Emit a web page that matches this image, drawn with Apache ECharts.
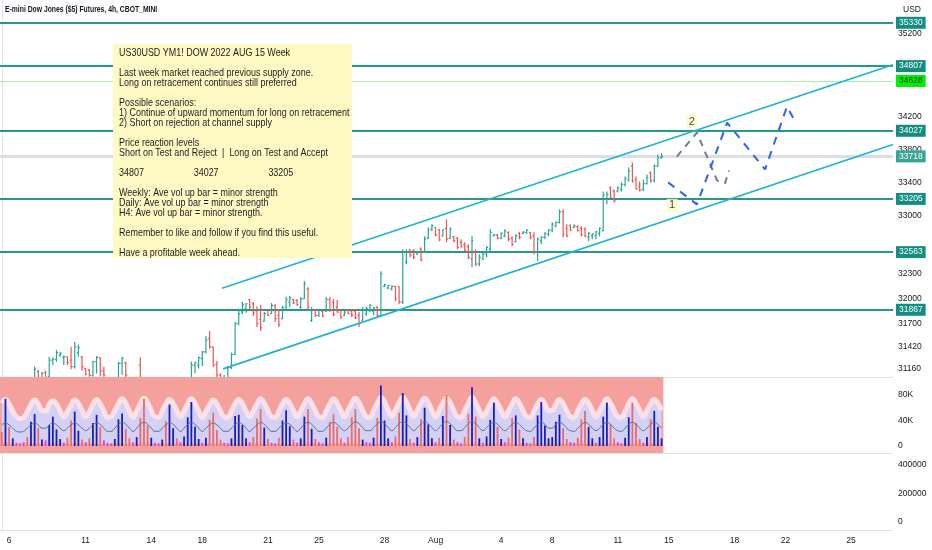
<!DOCTYPE html>
<html>
<head>
<meta charset="utf-8">
<script src="https://cdn.jsdelivr.net/npm/echarts@6/dist/echarts.min.js"></script>
<style>
  html, body { margin: 0; padding: 0; background: #fff; }
  #chart { width: 932px; height: 550px; }
</style>
</head>
<body>
<div id="chart"></div>
<script>
// YM1! 4h bars, open / close / low / high
const ohlc = [
  [30900,30870,30820,30950],[30870,30940,30800,30970],[30940,30900,30850,30990],[30900,30950,30860,31000],[30950,30890,30850,31010],
  [30890,30930,30840,30980],[30930,30960,30880,31020],[30960,30940,30890,31030],[30940,30990,30900,31040],[30990,31150,30970,31182],
  // 10
  [31120,31030,30990,31140],[31030,31100,31000,31118],[31110,31050,31020,31134],[31060,31260,31040,31298],[31260,31270,31200,31290],
  [31270,31350,31240,31383],[31320,31340,31300,31360],[31290,31300,31200,31315],[31300,31230,31200,31302],[31260,31180,31150,31422],
  // 20
  [31180,31420,31160,31478],[31350,31410,31300,31446],[31300,31180,31135,31310],[31160,31090,31075,31165],[31140,31075,31060,31150],
  [31075,31240,31060,31250],[31240,31290,31100,31310],[31290,31130,31065,31290],[31130,31080,31060,31180],[31050,30980,30920,31055],
  // 30
  [30980,30950,30880,31020],[30950,31040,30900,31050],[31040,31220,31020,31240],[31220,31280,31080,31300],[31230,31080,31040,31240],
  [31050,30980,30900,31055],[30980,30900,30850,31000],[30900,30960,30860,31010],[31200,30950,30900,31290],[30950,30880,30820,30990],
  // 40
  [30880,30840,30760,30920],[30840,30900,30800,30950],[30900,30860,30780,30940],[30860,30800,30720,30890],[30800,30850,30760,30900],
  [30850,30820,30770,30880],[30820,30880,30790,30930],[30880,30910,30840,30960],[30910,30870,30820,30950],[30870,30930,30840,30980],
  // 50
  [30930,30960,30880,31010],[30960,31000,30920,31040],[31000,31200,30980,31240],[31200,31230,31100,31240],[31200,31290,31160,31300],
  [31280,31360,31190,31370],[31360,31500,31340,31550],[31520,31420,31400,31610],[31420,31200,31180,31420],[31210,31080,31000,31250],
  // 60
  [31080,31020,30960,31100],[31020,31050,30990,31080],[31050,31170,31020,31190],[31170,31330,31150,31350],[31330,31700,31320,31720],
  [31700,31820,31680,31880],[31840,31930,31816,31960],[31880,31940,31830,31950],[31990,31900,31876,31996],[31940,31830,31792,31960],
  // 70
  [31850,31700,31660,31910],[31750,31650,31611,31924],[31730,31820,31725,31840],[31860,31800,31792,31876],[31820,31920,31816,31948],
  [31910,31760,31719,31936],[31800,31690,31659,31876],[31760,31890,31755,31912],[31900,31990,31876,32020],[31960,32010,31900,32032],
  // 80
  [31990,31950,31936,31996],[31980,31930,31912,31996],[31900,32000,31876,32020],[32000,32180,31996,32213],[32120,31900,31876,32140],
  [31740,31860,31719,31900],[31860,31800,31780,31876],[31800,31860,31780,31876],[31850,31790,31780,31852],[31850,31990,31840,32020],
  // 90
  [31990,31860,31840,32020],[31960,31810,31792,31996],[31900,31840,31830,31984],[31860,31780,31755,31876],[31800,31840,31792,31852],
  [31860,31820,31816,31876],[31850,31800,31780,31876],[31850,31770,31755,31876],[31800,31700,31659,31840],[31740,31860,31740,31900],
  // 100
  [31820,31880,31792,31900],[31870,31920,31840,31936],[31850,31890,31800,31900],[31900,31800,31780,31912],[31800,32300,31792,32333],
  [32150,32170,32140,32180],[32130,32160,32116,32170],[32120,32150,32100,32164],[32150,32000,31972,32152],[32150,31960,31936,32152],
  // 110
  [31960,32560,31936,32597],[32440,32560,32417,32597],[32590,32530,32501,32597],[32580,32500,32477,32597],[32540,32570,32530,32573],
  [32600,32470,32453,32620],[32560,32720,32555,32754],[32730,32830,32718,32862],[32840,32880,32814,32898],[32860,32770,32754,32862],
  // 120
  [32830,32710,32694,32838],[32760,32830,32754,32838],[32850,32720,32682,32958],[32730,32840,32718,32862],[32750,32700,32682,32754],
  [32730,32620,32597,32742],[32680,32630,32620,32718],[32650,32580,32561,32682],[32630,32500,32477,32658],[32480,32700,32381,32754],
  // 130
  [32560,32420,32393,32597],[32420,32500,32393,32537],[32480,32540,32465,32561],[32540,32620,32501,32634],[32600,32800,32573,32838],
  [32760,32775,32754,32778],[32770,32730,32718,32778],[32730,32790,32718,32802],[32760,32820,32742,32838],[32800,32720,32694,32814],
  // 140
  [32730,32660,32634,32754],[32690,32760,32682,32778],[32790,32740,32718,32802],[32790,32805,32778,32814],[32800,32830,32778,32838],
  [32800,32740,32718,32802],[32760,32570,32537,32802],[32570,32720,32453,32742],[32700,32740,32658,32754],[32740,32790,32718,32802],
  // 150
  [32780,32830,32754,32838],[32830,32900,32802,32922],[32880,32920,32862,32934],[32920,33050,32910,33079],[33050,32780,32742,33079],
  [32850,32760,32742,32898],[32880,32830,32814,32898],[32860,32880,32855,32898],[32870,32820,32814,32886],[32850,32770,32754,32874],
  // 160
  [32840,32760,32742,32862],[32740,32790,32694,32802],[32760,32780,32718,32790],[32760,32810,32718,32814],[32790,32850,32754,32862],
  [32820,33250,32814,33295],[33200,33260,33139,33295],[33340,33220,33199,33355],[33300,33180,33163,33319],[33300,33340,33283,33355],
  // 170
  [33320,33380,33295,33404],[33380,33450,33355,33476],[33430,33540,33416,33584],[33600,33420,33404,33644],[33440,33330,33319,33476],
  [33360,33310,33295,33416],[33320,33390,33300,33440],[33390,33460,33380,33500],[33520,33420,33404,33536],[33430,33600,33404,33620],
  // 180
  [33600,33700,33590,33740],[33700,33718,33690,33760]
];

// volume (thousands) and its band / average
const volume = [
  22,74,30,12,5,4,6,14,38,50,
  28,10,9,33,46,26,11,5,13,40,
  54,24,10,6,12,36,49,30,9,5,
  4,11,42,51,27,12,6,14,44,74,
  32,13,5,4,10,39,65,28,12,6,
  15,45,69,30,11,5,13,41,52,25,
  10,5,4,12,47,49,33,12,6,14,
  43,58,29,11,5,4,13,40,56,31,
  10,5,12,46,58,27,11,6,4,13,
  38,50,30,12,5,14,45,58,28,10,
  6,5,13,44,95,40,12,6,15,52,
  83,48,11,5,14,42,60,34,12,6,
  13,47,80,33,10,6,4,14,50,92,
  46,12,5,15,41,68,30,11,6,13,
  44,48,26,12,5,4,14,48,69,32,
  12,14,38,49,28,11,6,5,13,42,
  55,30,12,5,14,46,68,34,12,6,
  4,13,45,68,36,11,5,14,42,55,
  30,12
];
const volUpper = [
  67,73,66,55,46,43,45,54,65,72,
  66,56,55,65,71,66,55,46,54,64,
  72,67,56,46,54,65,73,66,55,45,
  46,56,66,74,67,55,45,55,66,75,
  68,56,46,45,55,66,73,67,56,46,
  55,66,74,67,55,45,54,65,72,66,
  55,46,45,55,66,73,67,55,46,55,
  66,74,67,56,46,45,55,66,73,67,
  56,46,55,66,74,67,56,46,45,55,
  66,74,67,56,46,56,67,75,68,56,
  46,45,56,67,76,69,57,47,57,68,
  76,69,57,46,56,67,75,68,56,46,
  56,67,75,68,56,46,45,56,67,76,
  68,56,46,55,66,74,67,56,46,55,
  66,74,67,56,46,45,55,66,73,66,
  56,56,66,73,67,55,46,45,55,66,
  73,67,56,46,55,66,74,67,56,46,
  45,55,66,74,67,56,46,56,66,73,
  67,56
];
const volMean = [
  33,36,33,28,23,22,23,28,33,36,
  33,28,28,33,36,33,28,24,28,33,
  36,33,28,24,28,33,36,34,28,23,
  23,28,34,37,34,28,23,28,34,37,
  34,28,23,23,28,33,36,34,28,23,
  28,34,37,34,28,23,28,33,36,33,
  28,23,23,28,33,36,34,28,23,28,
  33,37,34,28,23,23,28,33,36,34,
  28,23,28,34,37,34,28,23,23,28,
  34,37,34,28,24,28,34,38,35,29,
  24,24,29,35,38,35,29,24,29,35,
  38,35,29,24,29,34,38,35,29,24,
  29,35,38,35,29,24,24,29,35,38,
  35,29,24,29,34,37,34,28,24,28,
  34,37,34,28,24,23,28,34,37,34,
  28,28,34,37,34,28,24,23,28,33,
  37,34,28,24,28,34,37,34,28,24,
  23,28,34,37,34,28,24,28,34,37,
  34,28
];

// time axis: one slot per 4h bar, day labels at the first bar of the day
const barCount = 245;
const tickIdx = [2, 23, 41, 55, 73, 87, 105, 119, 137, 151, 169, 183, 201, 215, 233];
const tickText = ['6', '11', '14', '18', '21', '25', '28', 'Aug', '4', '8', '11', '15', '18', '22', '25'];
const priceTicks = [35200, 34200, 33800, 33400, 33000, 32300, 32000, 31700, 31420, 31160];
const volTicks = [0, 40, 80];
const pane3Ticks = [0, 200000, 400000];

// drawings
const levels = [35330, 34807, 34027, 33205, 32563, 31867];
const greenLevel = 34628;
const lastPrice = 33718;
const upperChannel = [[60.4, 32128], [244.5, 34823]];
const lowerChannel = [[60.7, 31154], [244.5, 33861]];
const grayPath = [[185.2, 33716], [190.7, 34005], [196.2, 33428], [198.4, 33392], [199.5, 33548]];
const bluePath = [[182.8, 33404], [190.7, 33139], [199.0, 34125], [209.4, 33560], [215.4, 34318], [217.1, 34185]];
const markers = [[183.9, 33127], [189.3, 34137]];
const markerText = ['1', '2'];

const noteLines = [
  'US30USD YM1! DOW 2022 AUG 15 Week',
  '',
  'Last week market reached previous supply zone.',
  'Long on retracement continues still preferred',
  '',
  'Possible scenarios:',
  '1) Continue of upward momentum for long on retracement',
  '2) Short on rejection at channel supply',
  '',
  'Price reaction levels',
  'Short on Test and Reject  |  Long on Test and Accept',
  '',
  '34807                    34027                    33205',
  '',
  'Weekly: Ave vol up bar = minor strength',
  'Daily: Ave vol up bar = minor strength',
  'H4: Ave vol up bar = minor strength.',
  '',
  'Remember to like and follow if you find this useful.',
  '',
  'Have a profitable week ahead.'
];

const FONT = '"Liberation Sans Narrow", "Liberation Sans", sans-serif';
const TXT = '#131722';
const SEP = '#e0e3eb';
const UP = '#26a69a', DOWN = '#ef5350';
const LEVEL = '#26998c';

const chart = echarts.init(document.getElementById('chart'));

const barData = ohlc.map((d, i) => [i, d[0], d[1], d[2], d[3]]);
const volData = volume.map((v, i) => ({
  value: [i, v],
  itemStyle: { color: v < 10 ? '#e23ee6' : (ohlc[i][1] >= ohlc[i][0] ? '#1c1cbc' : '#ef6a60') }
}));

function levelLine(v, bg, lineColor, width, textColor) {
  return {
    yAxis: v,
    lineStyle: { color: lineColor, width: width, type: 'solid' },
    label: { backgroundColor: bg, color: textColor || '#fff' }
  };
}

const xCommon = { type: 'value', min: -0.5, max: barCount - 0.5, splitLine: { show: false } };
const yCommon = {
  type: 'value', position: 'right', splitLine: { show: false },
  axisTick: { show: false },
  axisLine: { show: true, lineStyle: { color: SEP } },
  axisLabel: { color: TXT, fontSize: 8.5, fontFamily: FONT, margin: 5, formatter: v => String(v) }
};
const sepLine = { show: true, onZero: false, lineStyle: { color: SEP } };

const option = {
  animation: false,
  backgroundColor: '#fff',
  grid: [
    { left: 0, top: 0, width: 893, height: 377 },
    { left: 0, top: 377, width: 893, height: 76 },
    { left: 0, top: 453, width: 893, height: 77 }
  ],
  xAxis: [
    Object.assign({ gridIndex: 0, axisLine: sepLine, axisTick: { show: false }, axisLabel: { show: false } }, xCommon),
    Object.assign({ gridIndex: 1, axisLine: sepLine, axisTick: { show: false }, axisLabel: { show: false } }, xCommon),
    Object.assign({
      gridIndex: 2,
      axisLine: sepLine,
      axisTick: { show: false },
      axisLabel: {
        customValues: tickIdx,
        formatter: v => tickText[tickIdx.indexOf(Math.round(v))] || '',
        color: TXT, fontSize: 8.5, fontFamily: FONT, margin: 6
      }
    }, xCommon)
  ],
  yAxis: [
    Object.assign({}, yCommon, {
      gridIndex: 0, min: 31056, max: 35605,
      axisLabel: Object.assign({}, yCommon.axisLabel, { customValues: priceTicks })
    }),
    Object.assign({}, yCommon, {
      gridIndex: 1, min: -11, max: 108.2,
      axisLabel: Object.assign({}, yCommon.axisLabel, { customValues: volTicks, formatter: v => v ? v + 'K' : '0' })
    }),
    Object.assign({}, yCommon, {
      gridIndex: 2, min: -56000, max: 484000,
      axisLabel: Object.assign({}, yCommon.axisLabel, { customValues: pane3Ticks })
    })
  ],
  series: [
    {
      name: 'YM1!', type: 'custom', xAxisIndex: 0, yAxisIndex: 0, clip: true, z: 3,
      data: barData,
      encode: { x: 0, y: [1, 2, 3, 4] },
      renderItem: (params, api) => {
        const x = api.value(0);
        const o = api.coord([x, api.value(1)]);
        const c = api.coord([x, api.value(2)]);
        const lo = api.coord([x, api.value(3)]);
        const hi = api.coord([x, api.value(4)]);
        const col = api.value(2) >= api.value(1) ? UP : DOWN;
        const st = { stroke: col, lineWidth: 1.2 };
        return {
          type: 'group',
          children: [
            { type: 'line', shape: { x1: hi[0], y1: hi[1], x2: lo[0], y2: lo[1] }, style: st },
            { type: 'line', shape: { x1: o[0] - 1.5, y1: o[1], x2: o[0], y2: o[1] }, style: st },
            { type: 'line', shape: { x1: c[0], y1: c[1], x2: c[0] + 1.5, y2: c[1] }, style: st }
          ]
        };
      }
    },
    {
      name: 'channel top', type: 'line', xAxisIndex: 0, yAxisIndex: 0, z: 4,
      data: upperChannel, symbol: 'none',
      lineStyle: { color: '#1fb3d2', width: 1.6 },
      markLine: {
        silent: true, symbol: ['none', 'none'], z: 2,
        label: {
          position: 'end', distance: 3, formatter: '{c}',
          fontSize: 8.5, fontFamily: FONT, padding: [2, 3, 1, 3]
        },
        data: levels.map(v => levelLine(v, '#138d80', LEVEL, 2))
          .concat([
            levelLine(greenLevel, '#00f000', '#a6f2a6', 1, '#0b3d0b'),
            levelLine(lastPrice, '#3aa596', 'rgba(205,208,218,0.7)', 3)
          ])
      }
    },
    {
      name: 'channel bottom', type: 'line', xAxisIndex: 0, yAxisIndex: 0, z: 4,
      data: lowerChannel, symbol: 'none',
      lineStyle: { color: '#1fb3d2', width: 1.6 }
    },
    {
      name: 'scenario short', type: 'line', xAxisIndex: 0, yAxisIndex: 0, z: 5,
      data: grayPath, symbol: 'none',
      lineStyle: { color: '#787b86', width: 2, type: [7, 6] }
    },
    {
      name: 'scenario long', type: 'line', xAxisIndex: 0, yAxisIndex: 0, z: 5,
      data: bluePath, symbol: 'none',
      lineStyle: { color: '#2962ff', width: 2, type: [8, 7] }
    },
    {
      name: 'labels', type: 'scatter', xAxisIndex: 0, yAxisIndex: 0, z: 6,
      data: markers, symbol: 'rect', symbolSize: [11, 13],
      itemStyle: { color: '#fff9c4' },
      label: {
        show: true, position: 'inside', color: '#131722', fontSize: 11, fontFamily: FONT,
        formatter: p => markerText[p.dataIndex]
      }
    },
    {
      name: 'vol band', type: 'line', xAxisIndex: 1, yAxisIndex: 1, z: 2,
      data: volUpper.map((v, i) => [i, v]), symbol: 'none', smooth: 0.5,
      lineStyle: { color: 'rgba(255,226,232,0.95)', width: 5 },
      areaStyle: { color: '#d3d2f6', opacity: 1, origin: 4 },
      markArea: {
        silent: true,
        itemStyle: { color: '#f4a19d' },
        data: [[{ xAxis: -0.5, yAxis: -11 }, { xAxis: ohlc.length - 0.5, yAxis: 108.2 }]]
      }
    },
    {
      name: 'volume', type: 'bar', xAxisIndex: 1, yAxisIndex: 1, z: 3,
      data: volData, barWidth: 1.8
    },
    {
      name: 'vol avg', type: 'line', xAxisIndex: 1, yAxisIndex: 1, z: 4,
      data: volMean.map((v, i) => [i, v]), symbol: 'none', smooth: 0.5,
      lineStyle: { color: '#56708c', width: 1 }
    }
  ],
  graphic: [
    {
      type: 'text', x: 5, y: 5, z: 100, scaleX: 0.8,
      style: { text: 'E-mini Dow Jones ($5) Futures, 4h, CBOT_MINI', fill: TXT, font: 'bold 8.5px ' + FONT }
    },
    {
      type: 'text', left: 903, top: 5, z: 100,
      style: { text: 'USD', fill: TXT, font: '8.5px ' + FONT }
    },
    {
      type: 'rect', z: 90,
      shape: { x: 113, y: 44, width: 239, height: 214 },
      style: { fill: '#fff9c4' }
    },
    {
      type: 'text', z: 91, x: 119, y: 48, scaleX: 0.87,
      style: {
        text: noteLines.join('\n'), fill: '#1c1c1c',
        font: '10.3px ' + FONT, lineHeight: 10, verticalAlign: 'top'
      }
    }
  ]
};

chart.setOption(option);
</script>
</body>
</html>
